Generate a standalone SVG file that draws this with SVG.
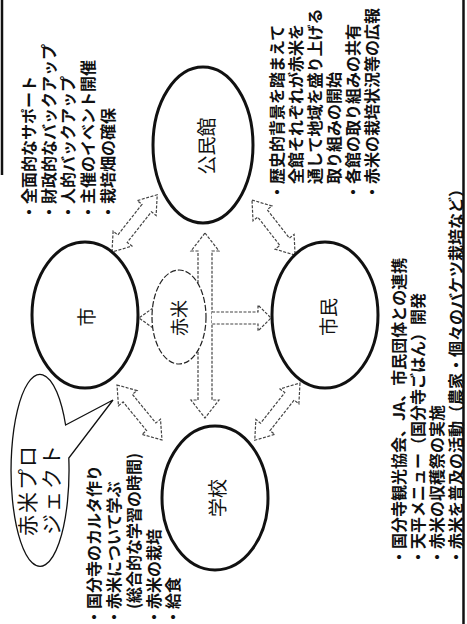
<svg xmlns="http://www.w3.org/2000/svg" width="467" height="624" viewBox="0 0 467 624">
<style>
.t{font-family:"Noto Sans CJK JP","Noto Sans CJK SC",sans-serif;font-size:16px;font-weight:bold;fill:#111;dominant-baseline:central}
.lbl{font-family:"Noto Sans CJK JP","Noto Sans CJK SC",sans-serif;font-size:19px;fill:#111;dominant-baseline:central;text-anchor:middle}
.node{fill:#fff;stroke:#111;stroke-width:3}
.arr{fill:#fff;stroke:#444;stroke-width:1.2;stroke-dasharray:3 1.5;stroke-linejoin:miter}
.border{stroke:#111;fill:none}
</style>
<rect width="467" height="624" fill="#fff"/>
<line class="border" x1="2" y1="0" x2="2" y2="175" stroke-width="2.5"/>
<line class="border" x1="463.5" y1="0" x2="463.5" y2="624" stroke-width="2.5"/>

<g id="connectors">
  <polygon class="arr" transform="translate(112,252) rotate(-51.7)" points="0,0 17,-12 17,-6 56,-6 56,-12 73,0 56,12 56,6 17,6 17,12"/>
  <polygon class="arr" transform="translate(252,200) rotate(52)" points="0,0 17,-12 17,-6 53,-6 53,-12 70,0 53,12 53,6 17,6 17,12"/>
  <polygon class="arr" transform="translate(117,385) rotate(50.7)" points="0,0 17,-12 17,-6 54,-6 54,-12 71,0 54,12 54,6 17,6 17,12"/>
  <polygon class="arr" transform="translate(300,383) rotate(128.3)" points="0,0 17,-12 17,-6 56,-6 56,-12 73,0 56,12 56,6 17,6 17,12"/>
  <polygon class="arr" transform="translate(205,233) rotate(90)" points="0,0 18,-14 18,-7 167,-7 167,-14 185,0 167,14 167,7 18,7 18,14"/>
  <polyline class="arr" points="212,312 258,312 258,305 271,318 258,331 258,324 212,324"/>
  <polyline class="arr" points="153,308 139,318 153,328"/>
</g>

<g id="node-kominkan">
  <ellipse class="node" cx="203" cy="145" rx="50" ry="78"/>
  <text class="lbl" transform="translate(205,146) rotate(-90)">公民館</text>
</g>
<g id="node-shi">
  <ellipse class="node" cx="85" cy="315" rx="53" ry="73"/>
  <text class="lbl" transform="translate(85,317) rotate(-90)">市</text>
</g>
<g id="node-shimin">
  <ellipse class="node" cx="325" cy="315" rx="53" ry="73"/>
  <text class="lbl" transform="translate(327,317) rotate(-90)">市民</text>
</g>
<g id="node-gakko">
  <ellipse class="node" cx="215" cy="498" rx="53" ry="72"/>
  <text class="lbl" transform="translate(216,498) rotate(-90)">学校</text>
</g>
<g id="node-akagome">
  <ellipse cx="179" cy="317" rx="27" ry="47" fill="#fff" stroke="#222" stroke-width="1.2" stroke-dasharray="6 2"/>
  <text class="lbl" transform="translate(178,318) rotate(-90)" style="font-size:18px">赤米</text>
</g>

<g id="node-bubble">
  <path d="M65.6,425 L113,400 L68.8,458 A29 96 0 1 1 65.6,425 Z" fill="#fff" stroke="#111" stroke-width="1.3"/>
  <text class="lbl" transform="translate(26,490) rotate(-90)" style="font-size:21px;letter-spacing:2px">赤米プロ</text>
  <text class="lbl" transform="translate(50,489) rotate(-90)" style="font-size:21px;letter-spacing:2px">ジェクト</text>
</g>

<g id="list-shi">
  <text class="t" transform="translate(28,220) rotate(-90)">・全面的なサポート</text>
  <text class="t" transform="translate(48,220) rotate(-90)">・財政的なバックアップ</text>
  <text class="t" transform="translate(67,220) rotate(-90)">・人的バックアップ</text>
  <text class="t" transform="translate(87,220) rotate(-90)">・主催のイベント開催</text>
  <text class="t" transform="translate(107,220) rotate(-90)">・栽培畑の確保</text>
</g>
<g id="list-kominkan">
  <text class="t" transform="translate(276,200) rotate(-90)">・歴史的背景を踏まえて</text>
  <text class="t" transform="translate(295,184) rotate(-90)">全館それぞれが赤米を</text>
  <text class="t" transform="translate(314,184) rotate(-90)">通して地域を盛り上げる</text>
  <text class="t" transform="translate(333,184) rotate(-90)">取り組みの開始</text>
  <text class="t" transform="translate(352,200) rotate(-90)">・各館の取り組みの共有</text>
  <text class="t" transform="translate(371,200) rotate(-90)">・赤米の栽培状況等の広報</text>
</g>
<g id="list-gakko">
  <text class="t" transform="translate(93,625) rotate(-90)">・国分寺のカルタ作り</text>
  <text class="t" transform="translate(113,625) rotate(-90)">・赤米について学ぶ</text>
  <text class="t" transform="translate(133,609) rotate(-90)">(総合的な学習の時間)</text>
  <text class="t" transform="translate(153,625) rotate(-90)">・赤米の栽培</text>
  <text class="t" transform="translate(172,625) rotate(-90)">・給食</text>
</g>
<g id="list-shimin">
  <text class="t" transform="translate(398,565) rotate(-90)">・国分寺観光協会、JA、市民団体との連携</text>
  <text class="t" transform="translate(417,565) rotate(-90)">・天平メニュー（国分寺ごはん）開発</text>
  <text class="t" transform="translate(436,565) rotate(-90)">・赤米の収穫祭の実施</text>
  <text class="t" transform="translate(455,565) rotate(-90)">・赤米を普及の活動（農家・個々のバケツ栽培など）</text>
</g>
</svg>
